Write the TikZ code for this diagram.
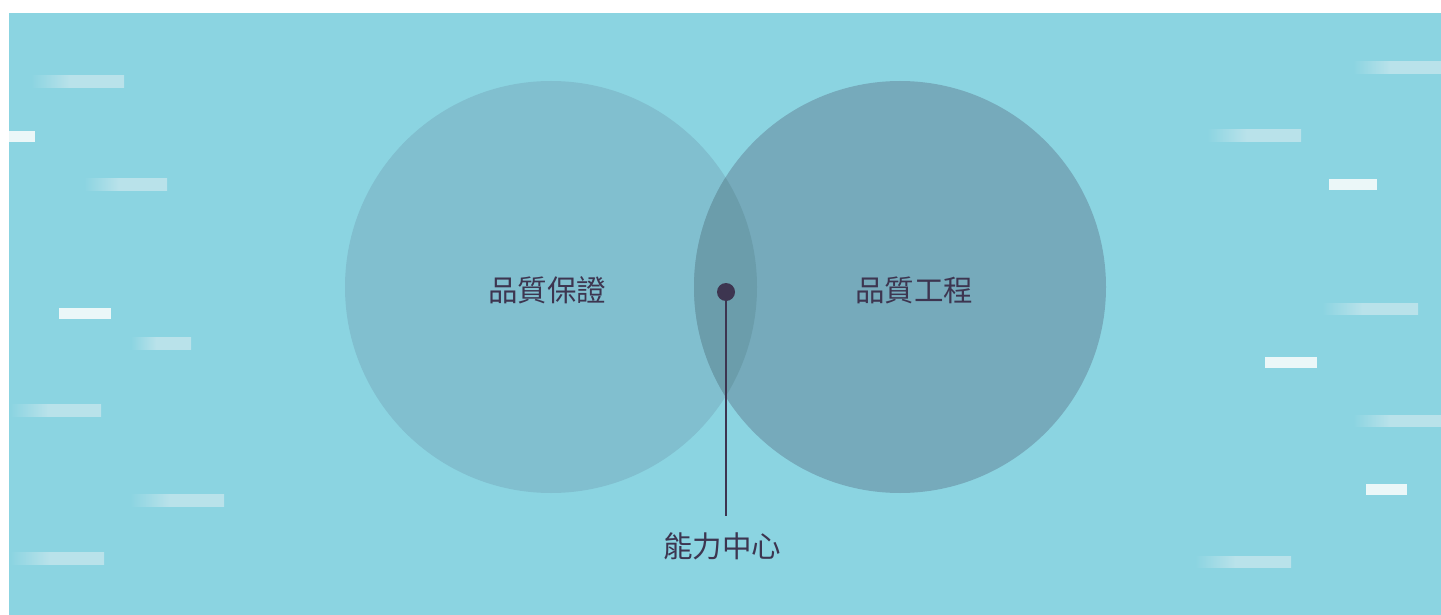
\documentclass[tikz,border=0pt]{standalone}
\usepackage{fontspec}
\newfontfamily\cjk{Noto Sans CJK TC}
\definecolor{bgc}{HTML}{8BD4E1}
\definecolor{dashc}{HTML}{B9E2EA}
\definecolor{solidc}{HTML}{EBF7F8}
\definecolor{leftc}{HTML}{81BFCF}
\definecolor{rightc}{HTML}{76AABB}
\definecolor{midc}{HTML}{6B9DAB}
\definecolor{inkc}{HTML}{3D3550}
\pgfdeclarehorizontalshading{dashfade}{100bp}{color(0bp)=(bgc); color(25bp)=(bgc); color(46bp)=(dashc); color(100bp)=(dashc)}
\begin{document}
\begin{tikzpicture}[x=1pt,y=-1pt,
  venn/.style={circle,minimum size=412pt,inner sep=0pt},
  lbl/.style={text=inkc,font=\cjk\fontsize{29.5}{35}\selectfont,inner sep=0pt},
  dotnode/.style={circle,fill=inkc,minimum size=18pt,inner sep=0pt},
  conn/.style={draw=inkc,line width=1.2pt}]
\useasboundingbox (0,0) rectangle (1441,615);
\fill[white] (0,0) rectangle (1441,615);
\fill[bgc] (9,13) rectangle (1441,615);
% gradient dashes: x0, x1, y0, y1
\foreach \xa/\xb/\ya/\yb in {31/124/76/88, 84/167/179/191, 131/191/337/349, 10/101/404/416, 130/224/494/506, 10/104/552/564, 1353/1441/62/74, 1207/1301/130/142, 1322/1418/303/314, 1353/1441/415/426, 1195/1291/556/567}{
  \shade[shading=dashfade] (\xa,\ya) rectangle (\xb,\yb);
}
% solid dashes
\foreach \xa/\xb/\ya/\yb in {9/35/131/142, 59/111/308/319, 1329/1377/179/190, 1265/1317/357/368, 1366/1407/484/495}{
  \fill[solidc] (\xa,\ya) rectangle (\xb,\yb);
}
% circles
\node[venn,fill=leftc] (qa) at (551,287) {};
\node[venn,fill=rightc] (qe) at (900,287) {};
\begin{scope}
  \clip (551,287) circle (206);
  \fill[midc] (900,287) circle (206);
\end{scope}
\node[lbl] (qat) at (547,290) {品質保證};
\node[lbl] (qet) at (914,290) {品質工程};
\node[dotnode] (dot) at (726,292) {};
\coordinate (lend) at (726,516);
\draw[conn] (dot.center) -- (lend);
\node[lbl] (cc) at (722,546) {能力中心};
\end{tikzpicture}
\end{document}
